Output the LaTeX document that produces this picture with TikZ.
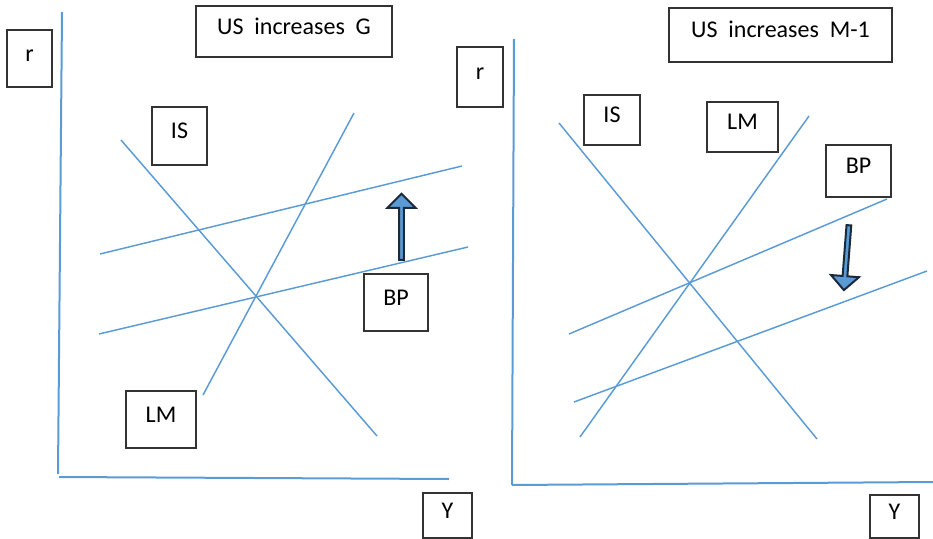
\documentclass[tikz,border=0pt]{standalone}
\usepackage{fontspec}
\setmainfont{Carlito}
\usetikzlibrary{shapes.arrows}
\definecolor{linea}{HTML}{5B9BD5}
\definecolor{borde}{HTML}{1B2A3A}

\begin{document}
\begin{tikzpicture}[x=0.75pt, y=-0.75pt,
  font=\fontsize{18}{21}\selectfont,
  curva/.style={linea, line width=1.1pt},
  eje/.style={linea, line width=1.5pt},
  caja/.style={draw=black!80, line width=0.9pt, inner sep=0pt,
    text height=9pt, text depth=5pt},
  flecha/.style={single arrow, draw=borde, fill=linea, line width=1.5pt,
    inner sep=0pt, minimum width=28*0.75pt, single arrow head extend=4.9*0.75pt,
    single arrow tip angle=90}]

  \useasboundingbox (0,0) rectangle (933,539);

  % ===================== US increases G =====================
  \draw[eje] (62,12) -- (58,474);     % eje r
  \draw[eje] (59,477) -- (449,479);   % eje Y

  \node[caja, minimum width=45*0.75pt, minimum height=57*0.75pt] (rG) at (29.5,58.5) {r};
  \node[caja, minimum width=196*0.75pt, minimum height=51*0.75pt] (tituloG) at (294,31.5) {US\ \ increases\ \ G};
  \node[caja, minimum width=55*0.75pt, minimum height=58*0.75pt] (isG) at (179.5,136) {IS};
  \node[caja, minimum width=64*0.75pt, minimum height=57*0.75pt] (bpG) at (396,302.5) {BP};
  \node[caja, minimum width=70*0.75pt, minimum height=57*0.75pt] (lmG) at (161,419.5) {LM};
  \node[caja, minimum width=49*0.75pt, minimum height=45*0.75pt] (yG) at (447.5,515.5) {Y};

  \draw[curva] (121,140) -- (377,436);   % IS
  \draw[curva] (354,113) -- (203,395);   % LM
  \draw[curva] (100,254) -- (462,166);   % BP nueva
  \draw[curva] (99,334) -- (468,247);    % BP inicial

  % BP sube
  \node[flecha, rotate=90, minimum height=66*0.75pt] (subeG) at (401.5,228) {};

  % ===================== US increases M-1 =====================
  \draw[eje] (514,39) -- (512,485);   % eje r
  \draw[eje] (512,485) -- (933,482);  % eje Y

  \node[caja, minimum width=46*0.75pt, minimum height=60*0.75pt] (rM) at (480,77) {r};
  \node[caja, minimum width=223*0.75pt, minimum height=54*0.75pt] (tituloM) at (780.5,35) {US\ \ increases\ \ M-1};
  \node[caja, minimum width=56*0.75pt, minimum height=50*0.75pt] (isM) at (612,120) {IS};
  \node[caja, minimum width=71*0.75pt, minimum height=50*0.75pt] (lmM) at (742.5,127) {LM};
  \node[caja, minimum width=65*0.75pt, minimum height=52*0.75pt] (bpM) at (858.5,171) {BP};
  \node[caja, minimum width=49*0.75pt, minimum height=43*0.75pt] (yM) at (894.5,516.5) {Y};

  \draw[curva] (559,123) -- (817,439);   % IS
  \draw[curva] (809,116) -- (580,437);   % LM
  \draw[curva] (569,334) -- (887,199);   % BP inicial
  \draw[curva] (574,402) -- (927,271);   % BP nueva

  % BP baja
  \node[flecha, rotate=265.6, minimum height=65*0.75pt] (bajaM) at (846.5,256.5) {};

\end{tikzpicture}
\end{document}
